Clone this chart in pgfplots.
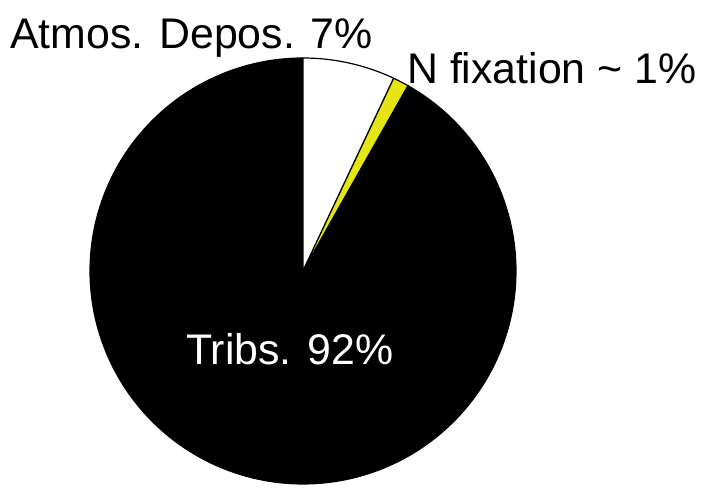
\documentclass[border=0pt]{standalone}
\usepackage{pgfplots}
\pgfplotsset{compat=1.18}
\usepackage{fontspec}
\setmainfont{Liberation Sans}
\definecolor{nfix}{RGB}{229,229,20}
% shares (percent)
\def\valAtmos{7.0}
\def\valNfix{1.2}
\def\valTribs{91.8}
\def\cx{303}\def\cy{220}\def\rr{213}
\pgfmathsetmacro{\aA}{0}
\pgfmathsetmacro{\aB}{3.6*\valAtmos}
\pgfmathsetmacro{\aC}{3.6*(\valAtmos+\valNfix)}
\pgfmathsetmacro{\aD}{3.6*(\valAtmos+\valNfix+\valTribs)}
\begin{document}
\begin{tikzpicture}
\begin{axis}[
  at={(0,0)}, anchor=south west,
  scale only axis, width=709bp, height=491bp,
  xmin=0, xmax=709, ymin=0, ymax=491,
  hide axis, clip=false,
]
\addplot[fill=black, draw=black, line width=1.2bp, domain=\aC:\aD, samples=200, variable=\t]
  ({\cx+\rr*sin(\t)}, {\cy+\rr*cos(\t)}) -- (axis cs:\cx,\cy) -- cycle;
\addplot[fill=white, draw=black, line width=1.2bp, domain=\aA:\aB, samples=40, variable=\t]
  ({\cx+\rr*sin(\t)}, {\cy+\rr*cos(\t)}) -- (axis cs:\cx,\cy) -- cycle;
\addplot[fill=nfix, draw=black, line width=1.2bp, domain=\aB:\aC, samples=10, variable=\t]
  ({\cx+\rr*sin(\t)}, {\cy+\rr*cos(\t)}) -- (axis cs:\cx,\cy) -- cycle;
\node[anchor=base west, inner sep=0pt, font=\fontsize{43}{43}\selectfont] at (axis cs:10,442) {Atmos. Depos. 7\%};
\node[anchor=base west, inner sep=0pt, font=\fontsize{43}{43}\selectfont] at (axis cs:407,407) {N fixation \char`\~\ 1\%};
\node[anchor=base west, inner sep=0pt, text=white, font=\fontsize{43}{43}\selectfont] at (axis cs:186,126) {Tribs. 92\%};
\end{axis}
\pgfresetboundingbox
\path[use as bounding box] (0,0) rectangle (709bp,491bp);
\end{tikzpicture}
\end{document}
